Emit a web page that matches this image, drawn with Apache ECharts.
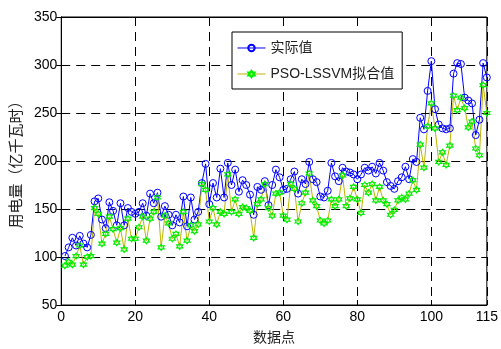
<!DOCTYPE html>
<html>
<head>
<meta charset="utf-8">
<script src="https://cdn.jsdelivr.net/npm/echarts@6/dist/echarts.min.js"></script>
<style>
  html, body { margin: 0; padding: 0; background: #fff; }
  #chart { width: 501px; height: 349px; }
</style>
</head>
<body>
<div id="chart"></div>
<script>
// Electricity consumption, samples 1..115
const actualValues = [
  101, 110, 120, 112, 122, 114, 110, 123, 158, 161,
  139, 130, 157, 148, 133, 156, 133, 151, 147, 145,
  147, 156, 143, 166, 156, 167, 142, 153, 144, 133,
  144, 136, 163, 132, 162, 139, 147, 177, 197, 155,
  177, 162, 192, 162, 198, 175, 191, 168, 180, 175,
  165, 144, 173, 170, 179, 154, 175, 191, 183, 170,
  171, 181, 189, 166, 181, 176, 199, 181, 178, 163,
  162, 169, 198, 184, 179, 193, 189, 188, 186, 181,
  186, 193, 190, 194, 187, 198, 190, 178, 174, 171,
  179, 183, 194, 181, 202, 199, 245, 233, 273, 304,
  254, 238, 234, 233, 234, 291, 302, 301, 266, 263,
  260, 227, 243, 302, 287
];

// PSO-LSSVM fitted values for the same samples
const fittedValues = [
  91, 95, 92, 101, 112, 92, 100, 101, 151, 145,
  114, 124, 142, 129, 115, 130, 108, 140, 119, 119,
  131, 142, 117, 140, 147, 162, 110, 143, 135, 119,
  124, 111, 147, 117, 133, 127, 134, 176, 170, 137,
  151, 134, 147, 145, 186, 147, 160, 145, 152, 151,
  148, 120, 155, 160, 176, 151, 143, 166, 167, 143,
  139, 176, 171, 137, 156, 167, 187, 159, 153, 138,
  135, 138, 160, 153, 160, 185, 153, 161, 173, 160,
  146, 175, 167, 176, 159, 173, 159, 155, 144, 149,
  159, 162, 160, 166, 180, 170, 217, 193, 236, 260,
  234, 199, 209, 196, 216, 268, 253, 266, 255, 235,
  241, 213, 206, 279, 250
];

const seriesNames = ['实际值', 'PSO-LSSVM拟合值'];
const xAxisTitle = '数据点';
const yAxisTitle = '用电量（亿千瓦时）';

const toPoints = vals => vals.map((v, i) => [i + 1, v]);

// hexagram marker outline
const hexagram = 'path://M10 0 L12.887 5 L18.66 5 L15.77 10 L18.66 15 L12.887 15 L10 20 L7.113 15 L1.34 15 L4.23 10 L1.34 5 L7.113 5 Z';

const labelFont = { fontFamily: 'Liberation Sans, Arial, sans-serif', fontSize: 14, color: '#000' };
const cjkFont = 'Noto Sans CJK SC, sans-serif';

const dashed = { show: true, lineStyle: { color: '#000', type: [9, 6], width: 1 } };

const chart = echarts.init(document.getElementById('chart'), null, { renderer: 'canvas' });
chart.setOption({
  animation: false,
  backgroundColor: '#fff',
  grid: { left: 58, right: 11, top: 17, bottom: 42, show: true, borderColor: '#000', borderWidth: 1, backgroundColor: '#fff' },
  legend: {
    orient: 'vertical',
    left: 232,
    top: 32,
    padding: [9, 8, 8, 5],
    itemGap: 12,
    itemWidth: 28,
    itemHeight: 8,
    itemTextGap: 5,
    lineStyle: { width: 1 },
    backgroundColor: '#fff',
    borderColor: '#000',
    borderWidth: 1,
    textStyle: { fontFamily: 'Liberation Sans, ' + cjkFont, fontSize: 14, color: '#222' },
    data: seriesNames
  },
  xAxis: [{
    type: 'value', min: 0, max: 115, interval: 20,
    name: xAxisTitle, nameLocation: 'middle', nameGap: 25,
    nameTextStyle: { fontFamily: cjkFont, fontSize: 14, color: '#222' },
    axisLine: { show: true, lineStyle: { color: '#000', width: 1 } },
    axisTick: { show: true, inside: true, length: 5, lineStyle: { color: '#000' } },
    axisLabel: Object.assign({ margin: 5 }, labelFont),
    splitLine: dashed
  }, {
    type: 'value', min: 0, max: 115, interval: 20, position: 'top',
    axisLine: { show: true, lineStyle: { color: '#000', width: 1 } },
    axisTick: { show: true, inside: true, length: 5, lineStyle: { color: '#000' } },
    axisLabel: { show: false },
    splitLine: { show: false }
  }],
  yAxis: [{
    type: 'value', min: 50, max: 350, interval: 50,
    name: yAxisTitle, nameLocation: 'middle', nameGap: 33, nameRotate: 90,
    nameTextStyle: { fontFamily: cjkFont, fontSize: 15, color: '#222' },
    axisLine: { show: true, lineStyle: { color: '#000', width: 1 } },
    axisTick: { show: true, inside: true, length: 5, lineStyle: { color: '#000' } },
    axisLabel: Object.assign({ margin: 4 }, labelFont),
    splitLine: dashed
  }, {
    type: 'value', min: 50, max: 350, interval: 50, position: 'right',
    axisLine: { show: true, lineStyle: { color: '#000', width: 1 } },
    axisTick: { show: true, inside: true, length: 5, lineStyle: { color: '#000' } },
    axisLabel: { show: false },
    splitLine: { show: false }
  }],
  series: [{
    name: seriesNames[0],
    type: 'line',
    data: toPoints(actualValues),
    symbol: 'circle',
    symbolSize: 7,
    showAllSymbol: true,
    lineStyle: { color: '#0000ff', width: 1 },
    itemStyle: { color: 'rgba(255,255,255,0)', borderColor: '#0000ff', borderWidth: 1 }
  }, {
    name: seriesNames[1],
    type: 'line',
    data: toPoints(fittedValues),
    symbol: hexagram,
    symbolSize: 6,
    showAllSymbol: true,
    lineStyle: { color: '#bdb500', width: 1 },
    itemStyle: { color: 'rgba(255,255,255,0)', borderColor: '#00ee00', borderWidth: 1.2 }
  }]
});
</script>
</body>
</html>
